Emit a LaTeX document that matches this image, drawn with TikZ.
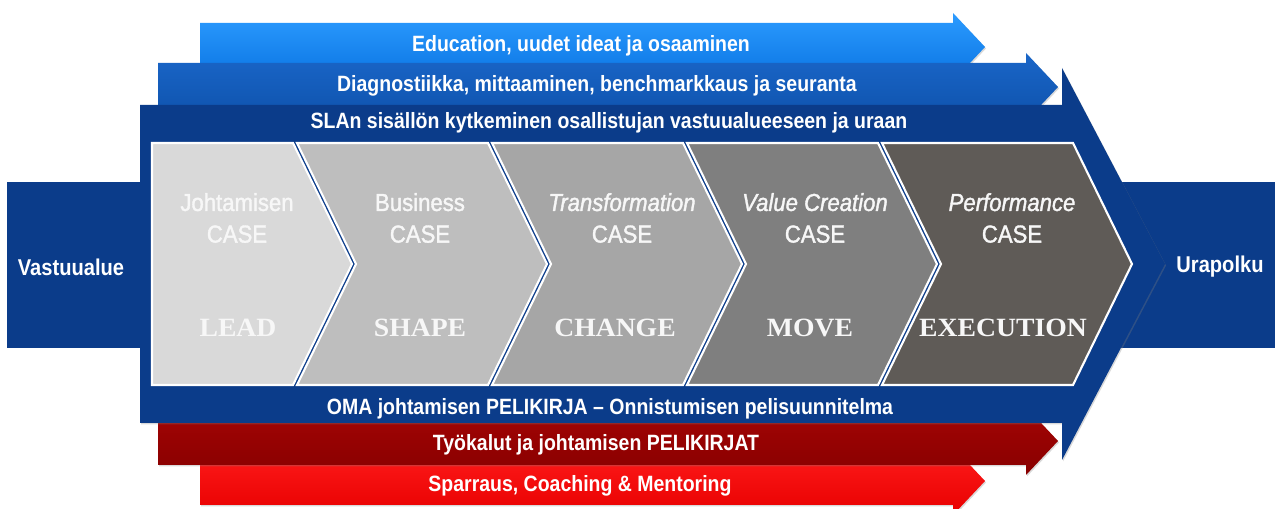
\documentclass[tikz,border=0pt]{standalone}
\usepackage{fontspec}
\setmainfont{Liberation Sans}[FakeStretch=0.88]
\newfontfamily\casefont{Liberation Sans}[FakeStretch=0.9, FakeBold=1.5]
\newfontfamily\decofont{Liberation Serif}[FakeStretch=1.05]
\usetikzlibrary{shadows}

\definecolor{navy}{HTML}{0B3C8A}
\definecolor{eduTop}{HTML}{2C9BFF}
\definecolor{eduBot}{HTML}{0A74E2}
\definecolor{diagTop}{HTML}{1A66C8}
\definecolor{diagBot}{HTML}{0E52AC}
\definecolor{toolTop}{HTML}{A40404}
\definecolor{toolBot}{HTML}{880000}
\definecolor{sparTop}{HTML}{FF1C1C}
\definecolor{sparBot}{HTML}{E80000}
\definecolor{caseA}{HTML}{D9D9D9}
\definecolor{caseB}{HTML}{BEBEBE}
\definecolor{caseC}{HTML}{A6A6A6}
\definecolor{caseD}{HTML}{7F7F7F}
\definecolor{caseE}{HTML}{5F5B57}

\begin{document}
\begin{tikzpicture}[x = 0.02cm, y = -0.02cm,
                        ribbon/.style = {draw = none, drop shadow = {shadow xshift = 0.6pt, shadow yshift = -0.8pt, opacity = 0.3}},
                        stage/.style = {draw = white, line width = 1.2pt},
                        bandtext/.style = {text = white, font = \bfseries\fontsize{12.6}{14}\selectfont},
                        sidetext/.style = {text = white, font = \bfseries\fontsize{13}{14}\selectfont},
                        casetext/.style = {text = white!94!gray, align = center, font = \casefont\fontsize{14}{18}\selectfont},
                        mottotext/.style = {text = white!94!gray, font = \decofont\bfseries\fontsize{15}{16}\selectfont}]
      \useasboundingbox (0, 0) rectangle (1275, 509);
      % ribbons above and below
      \path [ribbon, top color = eduTop, bottom color = eduBot] (200, 23) -- (953, 23) -- (953, 13) -- (985, 47) -- (953, 81) -- (953, 71) -- (200, 71) -- cycle;
      \path [ribbon, top color = diagTop, bottom color = diagBot] (158, 63) -- (1026, 63) -- (1026, 53) -- (1058, 87) -- (1026, 121) -- (1026, 111) -- (158, 111) -- cycle;
      \path [ribbon, top color = sparTop, bottom color = sparBot] (200, 457) -- (953, 457) -- (953, 447) -- (985, 481) -- (953, 515) -- (953, 505) -- (200, 505) -- cycle;
      \path [ribbon, top color = toolTop, bottom color = toolBot] (158, 417) -- (1026, 417) -- (1026, 407) -- (1058, 441) -- (1026, 475) -- (1026, 465) -- (158, 465) -- cycle;
      % side bands and the big arrow
      \path [fill = navy] (7, 182) rectangle (145, 348);
      \path [fill = navy] (1090, 182) rectangle (1275, 348);
      \path [ribbon, fill = navy] (140, 105) -- (1062, 105) -- (1062, 68) -- (1165, 264) -- (1062, 460) -- (1062, 423) -- (140, 423) -- cycle;
      % cases
      \path [stage, fill = caseA] (152, 143) -- (293, 143) -- (352, 264) -- (293, 385) -- (152, 385) -- cycle;
      \foreach \l/\col in {297/caseB, 492/caseC, 687/caseD, 882/caseE}
        \path [stage, fill = \col] (\l, 143) -- (\l + 191, 143) -- (\l + 250, 264) -- (\l + 191, 385) -- (\l, 385) -- (\l + 59, 264) -- cycle;
      \node [bandtext] (edu) at (581, 46) {Education, uudet ideat ja osaaminen};
      \node [bandtext] (diag) at (597, 86) {Diagnostiikka, mittaaminen, benchmarkkaus ja seuranta};
      \node [bandtext] (sla) at (609, 123) {SLAn sisällön kytkeminen osallistujan vastuualueeseen ja uraan};
      \node [bandtext] (oma) at (610, 409) {OMA johtamisen PELIKIRJA – Onnistumisen pelisuunnitelma};
      \node [bandtext] (tool) at (596, 445) {Työkalut ja johtamisen PELIKIRJAT};
      \node [bandtext] (spar) at (580, 486) {Sparraus, Coaching \& Mentoring};
      \node [sidetext] (vast) at (71, 267) {Vastuualue};
      \node [sidetext] (ura) at (1220, 267) {Urapolku};
      \node [casetext] (c1) at (237, 218) {Johtamisen\\CASE};
      \node [casetext] (c2) at (420, 218) {Business\\CASE};
      \node [casetext] (c3) at (622, 218) {\itshape Transformation\\CASE};
      \node [casetext] (c4) at (815, 218) {\itshape Value Creation\\CASE};
      \node [casetext] (c5) at (1012, 218) {\itshape Performance\\CASE};
      \node [mottotext] (m1) at (238, 328) {LEAD};
      \node [mottotext] (m2) at (420, 328) {SHAPE};
      \node [mottotext] (m3) at (615, 328) {CHANGE};
      \node [mottotext] (m4) at (810, 328) {MOVE};
      \node [mottotext] (m5) at (1003, 328) {EXECUTION};
    \end{tikzpicture}
\end{document}
